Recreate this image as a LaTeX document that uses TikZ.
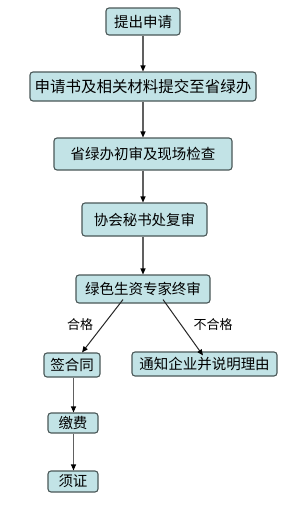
\documentclass[tikz,border=0pt]{standalone}
\usepackage{fontspec}
\setmainfont{Noto Sans CJK SC}
\usetikzlibrary{arrows.meta}
\definecolor{boxfill}{HTML}{C2E3E6}
\definecolor{boxline}{HTML}{4A5858}
\definecolor{arrline}{HTML}{606060}
\begin{document}
\begin{tikzpicture}[x=1pt,y=-1pt,
  box/.style={draw=boxline,line width=1.1pt,fill=boxfill,rounded corners=3pt,inner sep=0pt,align=center,font=\fontsize{14.5}{16}\selectfont},
  arr/.style={draw=arrline,line width=1.1pt,-{Triangle[length=6pt,width=5pt,fill=black,color=black]}},
  darr/.style={draw=black!85,line width=1pt,-{Triangle[length=6pt,width=5pt,fill=black,color=black]}},
  lbl/.style={font=\fontsize{13}{15}\selectfont,inner sep=0pt}]
\useasboundingbox[fill=white] (0,0) rectangle (298,507);
\node[box,minimum width=74pt,minimum height=27pt] (b1) at (143,21.5) {提出申请};
\node[box,minimum width=226pt,minimum height=29pt,font=\fontsize{15.5}{17}\selectfont] (b2) at (143,86.5) {申请书及相关材料提交至省绿办};
\node[box,minimum width=178pt,minimum height=32pt] (b3) at (143,154) {省绿办初审及现场检查};
\node[box,minimum width=125pt,minimum height=33pt] (b4) at (144.5,219.5) {协会秘书处复审};
\node[box,minimum width=134pt,minimum height=28pt] (b5) at (143,289) {绿色生资专家终审};
\node[box,minimum width=56pt,minimum height=24pt] (b6) at (72,365) {签合同};
\node[box,minimum width=145pt,minimum height=24pt] (b7) at (204.5,364) {通知企业并说明理由};
\node[box,minimum width=50pt,minimum height=20pt] (b8) at (73,423) {缴费};
\node[box,minimum width=50pt,minimum height=21pt] (b9) at (73,481.5) {须证};
\draw[arr] (b1.south) -- (b2.north);
\draw[arr] (b2.south) -- (b3.north);
\draw[arr] (b3.south) -- ([xshift=-1.5pt]b4.north);
\draw[arr] ([xshift=-1.5pt]b4.south) -- (b5.north);
\draw[darr] ([xshift=-20pt,yshift=4pt]b5.south) -- ([xshift=10pt]b6.north);
\draw[darr] ([xshift=20pt,yshift=4pt]b5.south) -- ([xshift=-1.5pt,yshift=-4pt]b7.north);
\draw[arr] ([xshift=1.5pt]b6.south) -- ([xshift=0.5pt]b8.north);
\draw[arr] ([xshift=0.5pt]b8.south) -- ([xshift=0.5pt]b9.north);
\node[lbl] (l1) at (80,325) {合格};
\node[lbl] (l2) at (213,325) {不合格};
\end{tikzpicture}
\end{document}
